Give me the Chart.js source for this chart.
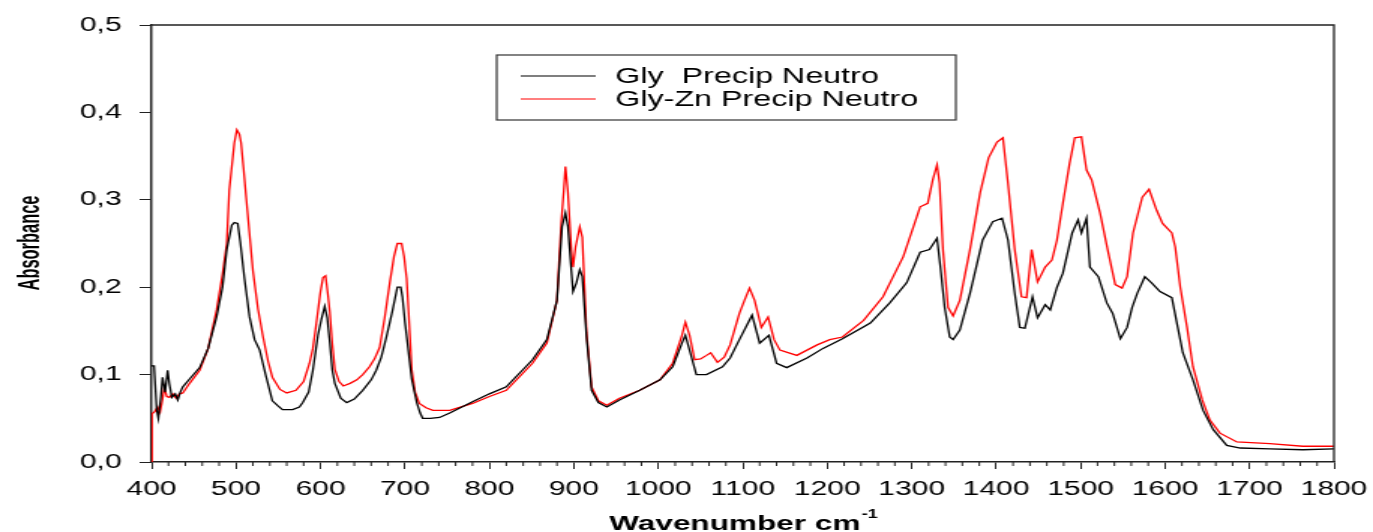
<!DOCTYPE html>
<html>
<head>
<meta charset="utf-8">
<script src="https://cdn.jsdelivr.net/npm/chart.js@4.4.0/dist/chart.umd.min.js"></script>
<style>
html, body { margin: 0; padding: 0; background: #fff; overflow: hidden; }
</style>
</head>
<body>
<!-- el original esta estirado en horizontal: se dibuja mas estrecho y se estira con CSS -->
<canvas id="graficoEspectro" width="915" height="532" style="width:1373px;height:532px"></canvas>
<script>
var etiquetas = ['Gly  Precip Neutro', 'Gly-Zn Precip Neutro'];

var glyX = [400, 403, 406, 408, 411, 413, 416, 419, 421, 424,
    428, 431, 434, 437, 445, 457, 467, 477, 484, 489,
    495, 498, 502, 505, 510, 516, 522, 528, 535, 543,
    550, 555, 567, 575, 579, 586, 591, 597, 601, 605,
    608, 611, 614, 617, 624, 631, 640, 650, 660, 666,
    672, 678, 685, 691, 695, 697, 700, 703, 708, 714,
    718, 721, 730, 741, 753, 780, 800, 820, 851, 868,
    880, 886, 890, 893, 896, 899, 903, 907, 910, 915,
    921, 929, 939, 954, 978, 1002, 1017, 1028, 1032, 1037,
    1045, 1057, 1076, 1085, 1096, 1111, 1120, 1131, 1140, 1152,
    1176, 1195, 1218, 1251, 1274, 1294, 1310, 1321, 1330, 1334,
    1339, 1345, 1349, 1357, 1369, 1384, 1396, 1407, 1414, 1422,
    1428, 1434, 1443, 1449, 1458, 1464, 1472, 1479, 1490, 1497,
    1501, 1507, 1511, 1521, 1531, 1538, 1547, 1555, 1561, 1567,
    1576, 1584, 1594, 1608, 1615, 1621, 1633, 1645, 1657, 1673,
    1689, 1724, 1763, 1800];

var glyY = [0.11, 0.11, 0.06, 0.05, 0.075, 0.097, 0.08, 0.105, 0.09, 0.074,
    0.078, 0.071, 0.08, 0.086, 0.095, 0.108, 0.13, 0.166, 0.2, 0.243,
    0.271, 0.274, 0.273, 0.252, 0.21, 0.166, 0.14, 0.128, 0.1, 0.07,
    0.064, 0.06, 0.06, 0.063, 0.068, 0.08, 0.105, 0.145, 0.163, 0.178,
    0.165, 0.137, 0.105, 0.09, 0.073, 0.068, 0.072, 0.082, 0.094, 0.105,
    0.12, 0.143, 0.172, 0.2, 0.2, 0.189, 0.16, 0.136, 0.095, 0.068,
    0.056, 0.05, 0.05, 0.051, 0.056, 0.069, 0.078, 0.086, 0.117, 0.14,
    0.185, 0.269, 0.285, 0.269, 0.231, 0.195, 0.205, 0.22, 0.212, 0.143,
    0.082, 0.068, 0.063, 0.071, 0.082, 0.094, 0.109, 0.136, 0.145, 0.128,
    0.1, 0.1, 0.109, 0.119, 0.14, 0.168, 0.136, 0.145, 0.113, 0.108,
    0.119, 0.13, 0.141, 0.159, 0.182, 0.205, 0.24, 0.243, 0.256, 0.223,
    0.177, 0.143, 0.14, 0.151, 0.193, 0.254, 0.275, 0.279, 0.254, 0.193,
    0.154, 0.153, 0.189, 0.165, 0.18, 0.174, 0.2, 0.216, 0.262, 0.277,
    0.262, 0.279, 0.223, 0.212, 0.182, 0.17, 0.141, 0.154, 0.177, 0.193,
    0.212, 0.205, 0.195, 0.188, 0.154, 0.125, 0.094, 0.059, 0.037, 0.019,
    0.016, 0.015, 0.014, 0.015];

var glyZnX = [400, 400.5, 404, 407, 410, 413, 415, 418, 421, 425,
    429, 433, 437, 445, 457, 467, 477, 484, 489, 492,
    498, 501, 504, 506, 509, 512, 520, 526, 532, 538,
    543, 552, 560, 571, 580, 587, 591, 595, 600, 603,
    606, 609, 611, 614, 617, 622, 627, 635, 643, 650,
    658, 664, 670, 676, 682, 687, 691, 696, 699, 702,
    705, 708, 712, 717, 725, 733, 753, 780, 800, 820,
    851, 868, 880, 885, 888, 890, 893, 897, 899, 902,
    907, 910, 915, 921, 929, 939, 954, 978, 1002, 1017,
    1028, 1032, 1037, 1043, 1050, 1057, 1062, 1070, 1078, 1085,
    1096, 1102, 1108, 1114, 1122, 1130, 1137, 1144, 1164, 1188,
    1203, 1218, 1243, 1266, 1290, 1302, 1310, 1319, 1325, 1330,
    1333, 1337, 1343, 1349, 1357, 1369, 1381, 1391, 1401, 1408,
    1414, 1422, 1430, 1436, 1442, 1449, 1458, 1466, 1472, 1479,
    1487, 1493, 1501, 1507, 1513, 1523, 1532, 1541, 1549, 1555,
    1562, 1573, 1581, 1590, 1597, 1608, 1612, 1618, 1626, 1633,
    1644, 1653, 1665, 1685, 1724, 1763, 1800];

var glyZnY = [0.0, 0.055, 0.058, 0.063, 0.057, 0.072, 0.085, 0.075, 0.074, 0.078,
    0.073, 0.078, 0.079, 0.09, 0.105, 0.13, 0.174, 0.215, 0.25, 0.311,
    0.365, 0.38, 0.375, 0.365, 0.335, 0.303, 0.219, 0.175, 0.143, 0.115,
    0.097, 0.083, 0.079, 0.082, 0.092, 0.113, 0.13, 0.158, 0.195, 0.211,
    0.213, 0.19, 0.172, 0.135, 0.106, 0.092, 0.087, 0.09, 0.094, 0.1,
    0.109, 0.118, 0.131, 0.165, 0.205, 0.235, 0.25, 0.25, 0.235, 0.21,
    0.16, 0.106, 0.08, 0.067, 0.062, 0.059, 0.059, 0.067, 0.075, 0.082,
    0.113, 0.136, 0.185, 0.273, 0.31, 0.338, 0.308, 0.243, 0.223, 0.246,
    0.269, 0.257, 0.148, 0.086, 0.07, 0.065, 0.073, 0.082, 0.094, 0.113,
    0.145, 0.16, 0.145, 0.117, 0.118, 0.122, 0.125, 0.114, 0.12, 0.134,
    0.17, 0.185, 0.199, 0.185, 0.154, 0.166, 0.14, 0.128, 0.122, 0.134,
    0.14, 0.143, 0.162, 0.189, 0.235, 0.269, 0.292, 0.296, 0.323, 0.34,
    0.319, 0.243, 0.177, 0.167, 0.185, 0.243, 0.308, 0.348, 0.366, 0.371,
    0.319, 0.243, 0.189, 0.188, 0.243, 0.206, 0.223, 0.231, 0.254, 0.296,
    0.342, 0.371, 0.372, 0.334, 0.323, 0.285, 0.243, 0.203, 0.199, 0.212,
    0.262, 0.303, 0.312, 0.288, 0.273, 0.262, 0.246, 0.2, 0.154, 0.109,
    0.071, 0.048, 0.033, 0.023, 0.021, 0.018, 0.018];

var colores = ['#000000', '#ff0000'];

function puntos(xs, ys) {
    return xs.map(function (x, i) {
        return { x: x, y: ys[i] };
    });
}

// marco, ticks menores, titulos de ejes y leyenda
var extras = {
    id: 'extras',
    afterDraw: function (chart) {
        var ctx = chart.ctx;
        var area = chart.chartArea;
        var escalaX = chart.scales.x;
        ctx.save();
        ctx.strokeStyle = '#222';
        ctx.lineWidth = 1.3;
        ctx.beginPath();
        ctx.moveTo(area.left, area.top);
        ctx.lineTo(area.right, area.top);
        ctx.lineTo(area.right, area.bottom);
        ctx.stroke();

        ctx.lineWidth = 1;
        for (var v = 420; v < 1800; v += 20) {
            if (v % 100 === 0) continue;
            var px = escalaX.getPixelForValue(v);
            ctx.beginPath();
            ctx.moveTo(px, area.bottom);
            ctx.lineTo(px, area.bottom + 4);
            ctx.stroke();
        }

        ctx.fillStyle = '#000';
        // titulo eje Y
        ctx.save();
        ctx.translate(20, 243);
        ctx.rotate(-Math.PI / 2);
        ctx.scale(0.82, 1);
        ctx.font = 'bold 20px "Liberation Sans", Arial, sans-serif';
        ctx.textAlign = 'center';
        ctx.textBaseline = 'middle';
        ctx.fillText('Absorbance', 0, 0);
        ctx.restore();

        // titulo eje X
        ctx.font = 'bold 21px "Liberation Sans", Arial, sans-serif';
        ctx.textBaseline = 'alphabetic';
        ctx.textAlign = 'left';
        var t1 = 'Wavenumber cm';
        var w1 = ctx.measureText(t1).width;
        ctx.font = 'bold 12px "Liberation Sans", Arial, sans-serif';
        var w2 = ctx.measureText('-1').width;
        var x0 = 495 - (w1 + w2) / 2;
        ctx.font = 'bold 21px "Liberation Sans", Arial, sans-serif';
        ctx.fillText(t1, x0, 530);
        ctx.font = 'bold 12px "Liberation Sans", Arial, sans-serif';
        ctx.fillText('-1', x0 + w1 + 1, 518);

        // leyenda
        ctx.strokeStyle = '#333';
        ctx.lineWidth = 1.2;
        ctx.strokeRect(331, 55, 306, 65);
        ctx.font = '21.5px "Liberation Sans", Arial, sans-serif';
        ctx.textBaseline = 'middle';
        chart.data.datasets.forEach(function (ds, i) {
            var y = 76 + i * 23;
            ctx.strokeStyle = ds.borderColor;
            ctx.lineWidth = 1.2;
            ctx.beginPath();
            ctx.moveTo(347, y);
            ctx.lineTo(397, y);
            ctx.stroke();
            ctx.fillStyle = '#000';
            ctx.fillText(ds.label, 410, y + 1);
        });
        ctx.restore();
    }
};

var ctx = document.getElementById('graficoEspectro').getContext('2d');
var grafico = new Chart(ctx, {
    type: 'line',
    data: {
        datasets: [{
            label: etiquetas[0],
            data: puntos(glyX, glyY),
            borderColor: colores[0]
        }, {
            label: etiquetas[1],
            data: puntos(glyZnX, glyZnY),
            borderColor: colores[1]
        }]
    },
    options: {
        responsive: false,
        animation: false,
        layout: { padding: { top: 25, right: 26, left: 0, bottom: 0 } },
        elements: {
            point: { radius: 0 },
            line: { borderWidth: 1.3, tension: 0 }
        },
        plugins: {
            legend: { display: false },
            tooltip: { enabled: false }
        },
        scales: {
            x: {
                type: 'linear',
                min: 400,
                max: 1800,
                afterFit: function (escala) {
                    escala.height = 70;
                    escala.paddingLeft = 0;
                    escala.paddingRight = 0;
                },
                grid: { drawOnChartArea: false, tickLength: 7, color: '#222' },
                border: { color: '#222', width: 1.5 },
                ticks: {
                    stepSize: 100,
                    padding: 8,
                    maxRotation: 0,
                    autoSkip: false,
                    color: '#000',
                    font: { family: '"Liberation Sans", Arial, sans-serif', size: 20 },
                    callback: function (valor) {
                        return String(valor);
                    }
                }
            },
            y: {
                min: 0,
                max: 0.5,
                afterFit: function (escala) { escala.width = 101; },
                grid: { drawOnChartArea: false, tickLength: 8, color: '#222' },
                border: { color: '#222', width: 1.5 },
                ticks: {
                    stepSize: 0.1,
                    padding: 12,
                    color: '#000',
                    font: { family: '"Liberation Sans", Arial, sans-serif', size: 20 },
                    callback: function (valor) {
                        return valor.toFixed(1).replace('.', ',');
                    }
                }
            }
        }
    },
    plugins: [extras]
});
</script>
</body>
</html>
